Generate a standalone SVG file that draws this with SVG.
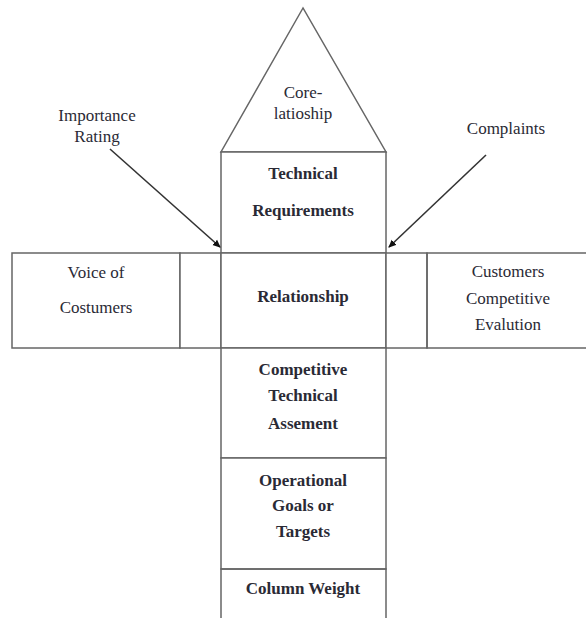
<svg xmlns="http://www.w3.org/2000/svg" width="586" height="618" viewBox="0 0 586 618">
<style>
.box{fill:#fff;stroke:#666;stroke-width:1.5}
.ln{fill:none;stroke:#666;stroke-width:1.5}
text{font-family:'Liberation Serif','Times New Roman',serif;font-size:17px;fill:#2a2a35;text-anchor:middle}
.b{font-weight:bold}
.arr{fill:none;stroke:#333;stroke-width:1.6}
</style>
<defs>
<marker id="ah" markerWidth="8" markerHeight="8" refX="7" refY="4" orient="auto" markerUnits="userSpaceOnUse">
<path d="M0,0.5 L8,4 L0,7.5 Z" fill="#111"/>
</marker>
</defs>
<rect width="586" height="618" fill="#fff"/>
<g id="roof">
<polygon class="box" points="303,8 221,152 386,152"/>
<text x="303" y="98">Core-</text>
<text x="303" y="119">latioship</text>
</g>
<g id="technical-requirements">
<rect class="box" x="221" y="152" width="165" height="101"/>
<text class="b" x="303" y="179">Technical</text>
<text class="b" x="303" y="216">Requirements</text>
</g>
<g id="voice-of-customers">
<rect class="box" x="12" y="253" width="168" height="95"/>
<text x="96" y="278">Voice of</text>
<text x="96" y="313">Costumers</text>
</g>
<g id="importance-col">
<rect class="box" x="180" y="253" width="41" height="95"/>
</g>
<g id="relationship">
<rect class="box" x="221" y="253" width="165" height="95"/>
<text class="b" x="303" y="302">Relationship</text>
</g>
<g id="complaints-col">
<rect class="box" x="386" y="253" width="41" height="95"/>
</g>
<g id="customers-competitive-evaluation">
<path class="ln" d="M590,253 H427 V348 H590"/>
<text x="508" y="277">Customers</text>
<text x="508" y="304">Competitive</text>
<text x="508" y="330">Evalution</text>
</g>
<g id="competitive-technical-assessment">
<rect class="box" x="221" y="348" width="165" height="110"/>
<text class="b" x="303" y="375">Competitive</text>
<text class="b" x="303" y="401">Technical</text>
<text class="b" x="303" y="429">Assement</text>
</g>
<g id="operational-goals">
<rect class="box" x="221" y="458" width="165" height="111"/>
<text class="b" x="303" y="486">Operational</text>
<text class="b" x="303" y="511">Goals or</text>
<text class="b" x="303" y="537">Targets</text>
</g>
<g id="column-weight">
<path class="ln" d="M221,622 V569 H386 V622"/>
<text class="b" x="303" y="594">Column Weight</text>
</g>
<g id="importance-rating">
<text x="97" y="121">Importance</text>
<text x="97" y="142">Rating</text>
</g>
<g id="complaints">
<text x="506" y="134">Complaints</text>
</g>
<g id="connectors">
<line class="arr" x1="110" y1="149" x2="220" y2="247" marker-end="url(#ah)"/>
<line class="arr" x1="486" y1="155" x2="389" y2="247" marker-end="url(#ah)"/>
</g>
</svg>
